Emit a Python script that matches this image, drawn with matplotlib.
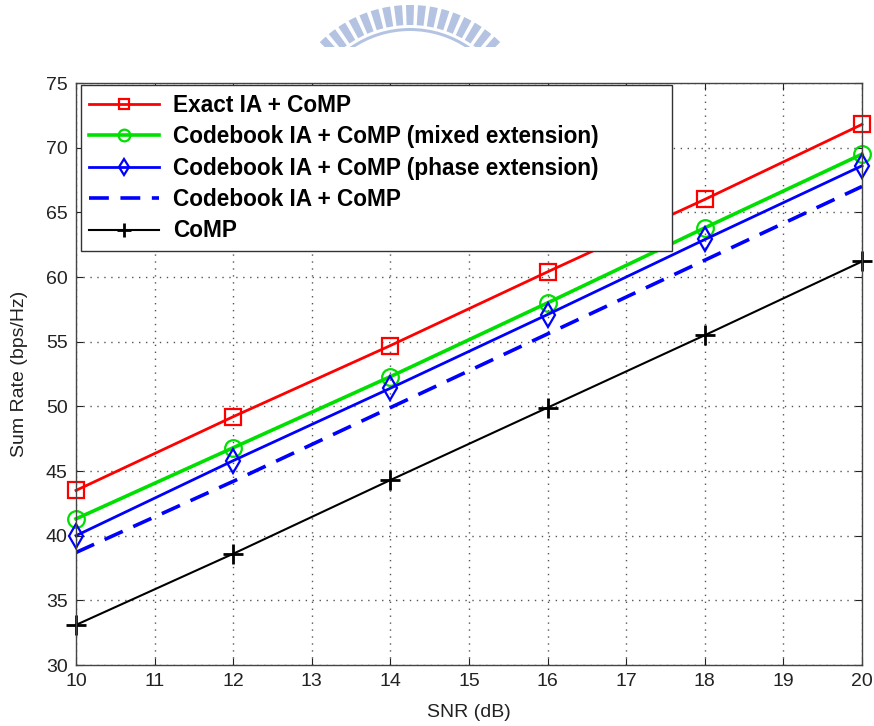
import numpy as np
import matplotlib
matplotlib.use('Agg')
import matplotlib.pyplot as plt
from matplotlib.patches import Wedge

plt.rcParams['font.family'] = ['Liberation Sans', 'DejaVu Sans']

snr = [10, 12, 14, 16, 18, 20]
exact_ia = [43.5, 49.2, 54.7, 60.4, 66.0, 71.8]
cb_mixed = [41.3, 46.8, 52.3, 58.0, 63.8, 69.5]
cb_phase = [40.0, 45.8, 51.4, 57.1, 62.9, 68.6]
cb_plain = [38.7, 44.2, 49.9, 55.6, 61.3, 67.0]
comp = [33.1, 38.6, 44.3, 49.9, 55.5, 61.2]

labels = ['Exact IA + CoMP',
          'Codebook IA + CoMP (mixed extension)',
          'Codebook IA + CoMP (phase extension)',
          'Codebook IA + CoMP',
          'CoMP']

W, H = 874, 726
fig = plt.figure(figsize=(W / 100, H / 100), dpi=100)
ax = fig.add_axes([76 / W, 1 - 665 / H, (862 - 76) / W, (665 - 83) / H])

ax.plot(snr, exact_ia, color='#ff0000', lw=2.0, marker='s', ms=11,
        mfc='none', mew=1.6, label=labels[0], clip_on=False)
ax.plot(snr, cb_mixed, color='#00e000', lw=2.6, marker='o', ms=12,
        mfc='none', mew=1.6, label=labels[1], clip_on=False)
ax.plot(snr, cb_phase, color='#0000ff', lw=2.0, marker='d', ms=12,
        mfc='none', mew=1.6, label=labels[2], clip_on=False)
ax.plot(snr, cb_plain, color='#0000ff', lw=2.6, ls=(0, (5.5, 3.2)),
        label=labels[3])
ax.plot(snr, comp, color='black', lw=1.5, marker='+', ms=15, mew=2.0,
        label=labels[4], clip_on=False)

ax.set_xlim(10, 20)
ax.set_ylim(30, 75)
ax.set_xticks(range(10, 21))
ax.set_yticks(range(30, 76, 5))
ax.grid(True, ls=(0, (1, 4)), color='#555555', lw=1.0)
ax.tick_params(direction='in', length=5, labelsize=14, top=True, right=True,
               colors='#222222', pad=6)
for s in ax.spines.values():
    s.set_color('#444444')
    s.set_linewidth(1.0)

ax.set_xlabel('SNR (dB)', fontsize=14, labelpad=10, color='#222222')
ax.set_ylabel('Sum Rate (bps/Hz)', fontsize=14, labelpad=13, color='#222222')

leg = ax.legend(loc='upper left', bbox_to_anchor=(0.006, 0.713, 0.752, 0.283),
                mode='expand', borderaxespad=0, frameon=True, fancybox=False,
                handlelength=3.1, borderpad=0.38, labelspacing=0.37,
                handletextpad=0.6, markerscale=0.7,
                prop={'weight': 'bold', 'size': 16.3})
leg.get_frame().set_edgecolor('#333333')
leg.get_frame().set_linewidth(1.0)
leg.get_frame().set_alpha(1)

# faint seal watermark cut off at the top edge
wm = fig.add_axes([0, 1 - 47 / H, 1, 47 / H])
wm.set_xlim(0, W)
wm.set_ylim(47, 0)
wm.axis('off')
col = '#b3c3e1'
cx, cy = 410, 133
for ang in np.linspace(270 - 43, 270 + 43, 17):
    wm.add_patch(Wedge((cx, cy), 128, ang - 1.8, ang + 1.8, width=20,
                       color=col, lw=0))
wm.add_patch(Wedge((cx, cy), 105, 200, 340, width=3, color=col, lw=0))

fig.savefig('out.png', dpi=100)
